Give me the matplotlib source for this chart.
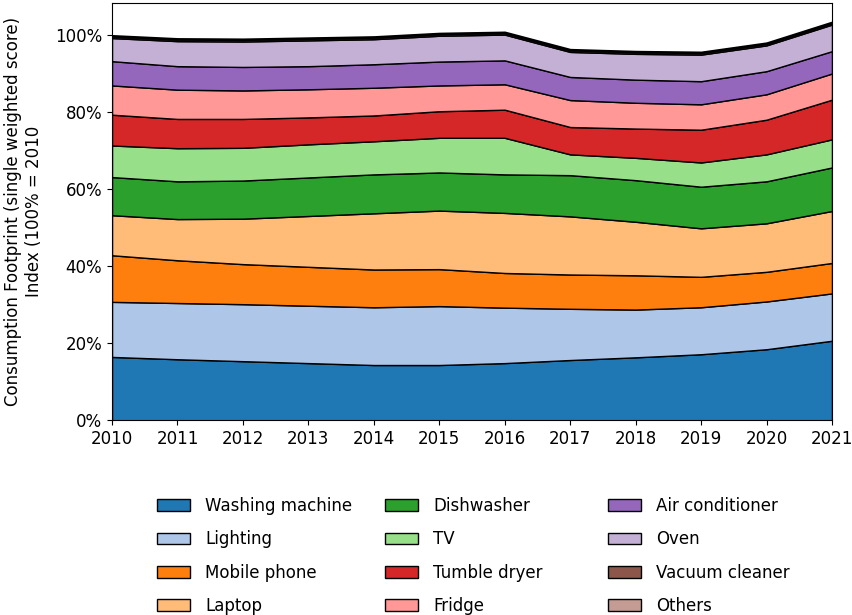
import matplotlib
matplotlib.use("Agg")
import matplotlib.pyplot as plt
from matplotlib.ticker import PercentFormatter

years = list(range(2010, 2022))

labels = ["Washing machine", "Lighting", "Mobile phone", "Laptop",
          "Dishwasher", "TV", "Tumble dryer", "Fridge",
          "Air conditioner", "Oven", "Vacuum cleaner", "Others"]

# share of the 2010 total (%)
washing_machine = [16.5, 15.9, 15.4, 14.9, 14.4, 14.4, 14.9, 15.7, 16.4, 17.2, 18.5, 20.7]
lighting        = [14.3, 14.6, 14.8, 14.9, 15.0, 15.3, 14.4, 13.3, 12.4, 12.2, 12.4, 12.3]
mobile_phone    = [12.1, 11.1, 10.4, 10.1, 9.8, 9.6, 9.0, 8.9, 8.9, 7.9, 7.7, 7.9]
laptop          = [10.4, 10.7, 11.8, 13.2, 14.6, 15.2, 15.6, 15.1, 13.9, 12.6, 12.6, 13.5]
dishwasher      = [9.9, 9.8, 9.9, 10.0, 10.1, 9.9, 10.0, 10.7, 10.8, 10.8, 10.9, 11.3]
tv              = [8.2, 8.6, 8.5, 8.6, 8.6, 9.0, 9.5, 5.4, 5.8, 6.3, 7.0, 7.3]
tumble_dryer    = [8.0, 7.6, 7.5, 7.0, 6.7, 6.9, 7.3, 7.1, 7.6, 8.5, 9.0, 10.3]
fridge          = [7.6, 7.6, 7.4, 7.3, 7.2, 6.7, 6.6, 7.0, 6.7, 6.6, 6.6, 6.8]
air_conditioner = [6.3, 6.1, 6.1, 6.0, 6.1, 6.2, 6.2, 6.0, 6.0, 6.0, 6.0, 5.8]
oven            = [6.0, 6.5, 6.6, 6.7, 6.5, 6.7, 6.7, 6.5, 6.7, 6.9, 6.7, 6.9]
vacuum_cleaner  = [0.4, 0.4, 0.4, 0.4, 0.4, 0.4, 0.4, 0.4, 0.4, 0.4, 0.4, 0.4]
others          = [0.35, 0.35, 0.35, 0.35, 0.35, 0.35, 0.35, 0.35, 0.35, 0.35, 0.35, 0.35]

series = [washing_machine, lighting, mobile_phone, laptop, dishwasher, tv,
          tumble_dryer, fridge, air_conditioner, oven, vacuum_cleaner, others]

plt.rcParams["font.size"] = 12
colors = plt.get_cmap("tab20").colors[:12]

fig = plt.figure(figsize=(8.52, 6.15), dpi=100)
ax = fig.add_axes([0.1315, 0.3163, 0.845, 0.6788])

ax.stackplot(years, *series, labels=labels, colors=colors,
             edgecolor="black", linewidth=1.0)

ax.set_xlim(2010, 2021)
ax.set_ylim(0, 108.4)
ax.set_xticks(years)
ax.yaxis.set_major_formatter(PercentFormatter(decimals=0))
ax.set_ylabel("Consumption Footprint (single weighted score)\nIndex (100% = 2010",
              labelpad=9)

# legend below the plot, one block per column
handles, names = ax.get_legend_handles_labels()
col_x = [157, 385, 608]
for i, x in enumerate(col_x):
    fig.legend(handles[i * 4:(i + 1) * 4], names[i * 4:(i + 1) * 4],
               loc="upper left", bbox_to_anchor=(x / 852, 1 - 497 / 615),
               frameon=False, borderpad=0, borderaxespad=0,
               labelspacing=0.92, handletextpad=0.9)

fig.savefig("out.png", dpi=100)
